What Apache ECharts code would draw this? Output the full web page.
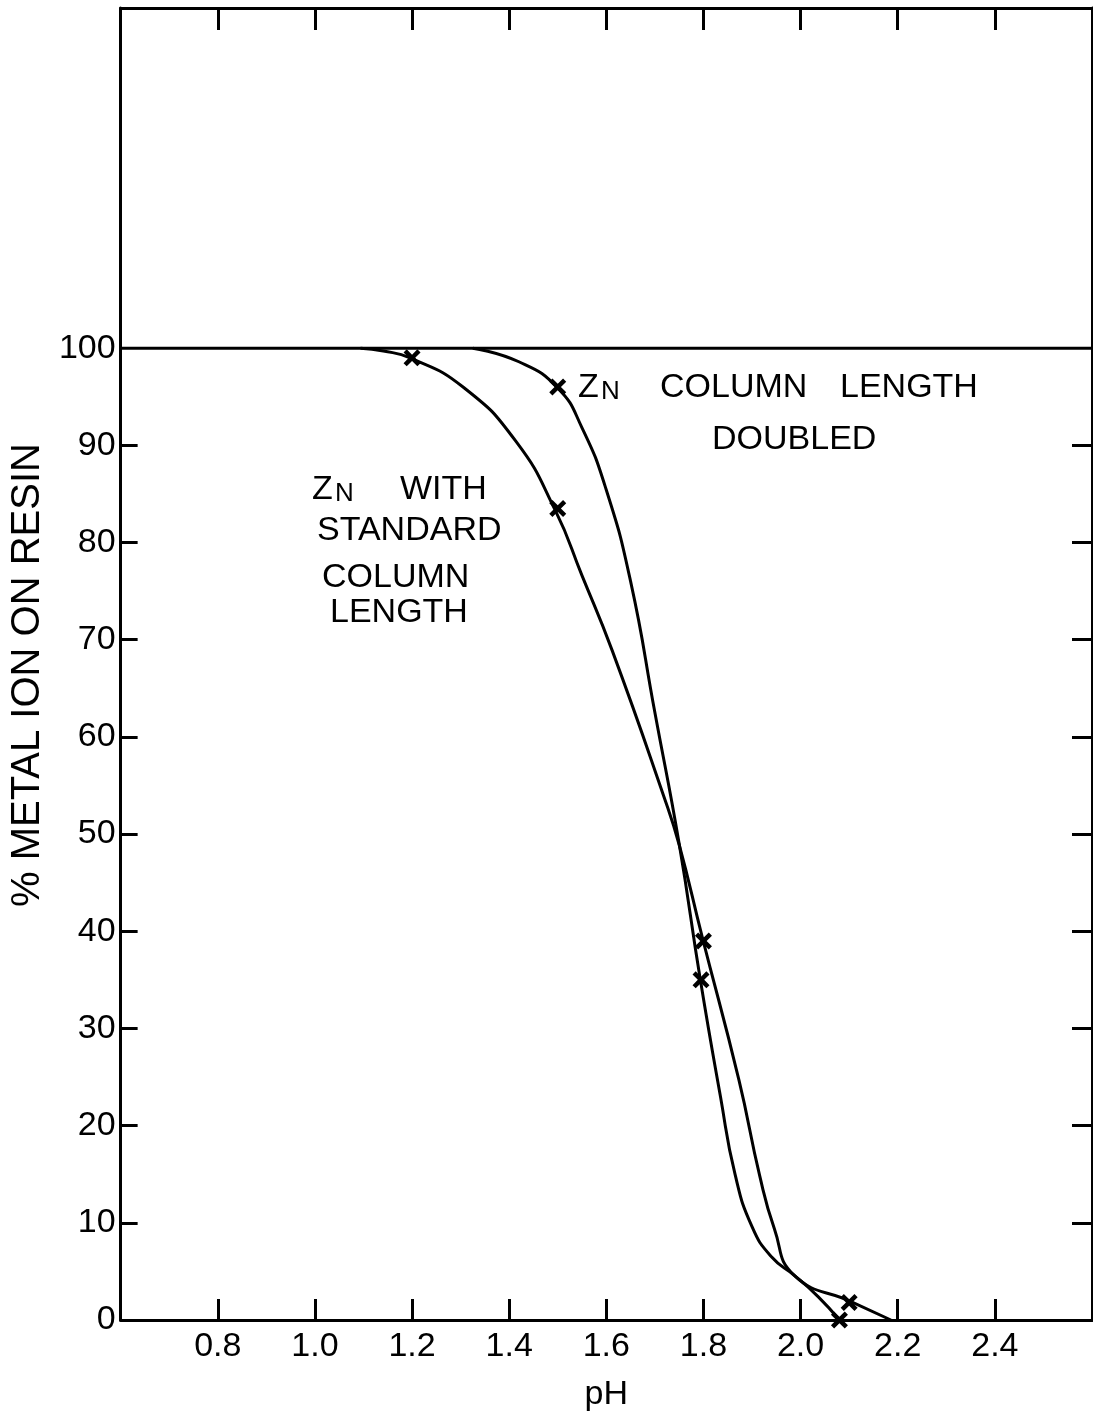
<!DOCTYPE html>
<html>
<head>
<meta charset="utf-8">
<script src="https://cdn.jsdelivr.net/npm/echarts@6/dist/echarts.min.js"></script>
<style>
  html, body { margin: 0; padding: 0; background: #fff; }
  #chart { width: 1093px; height: 1418px; }
</style>
</head>
<body>
<div id="chart"></div>
<script>
// pH tick positions and % labels
const xTicks = [0.8, 1.0, 1.2, 1.4, 1.6, 1.8, 2.0, 2.2, 2.4];
const yLabels = [0, 10, 20, 30, 40, 50, 60, 70, 80, 90, 100];
const yTicks = [10, 20, 30, 40, 50, 60, 70, 80, 90];

// 100 % reference line across the plot
const fullLine = [[0.6, 100], [2.6, 100]];

// Zn, standard column length: traced curve and measured points
const standardCurve = [
  [1.094, 100], [1.141, 99.7], [1.196, 99.0], [1.305, 96.0], [1.414, 90.4],
  [1.495, 83.3], [1.55, 76.6], [1.612, 68.9], [1.719, 53.8], [1.75, 48.9],
  [1.797, 39.5], [1.873, 24.7], [1.916, 14.8], [1.946, 9.4], [1.987, 4.6],
  [2.106, 1.85], [2.186, 0]
];
const standardPoints = [[1.2, 99], [1.5, 83.5], [1.8, 39], [2.1, 1.8]];

// Zn, column length doubled: traced curve and measured points
const doubledCurve = [
  [1.325, 100], [1.42, 98.6], [1.50, 95.9], [1.55, 91.8], [1.60, 85.4],
  [1.65, 76.0], [1.70, 62.5], [1.75, 49.0], [1.793, 35.2], [1.835, 23.0],
  [1.865, 15.0], [1.90, 9.6], [1.94, 6.5], [1.987, 4.6], [2.036, 2.4],
  [2.08, 0]
];
const doubledPoints = [[1.5, 96], [1.795, 35], [2.08, 0]];

const FONT = 'Liberation Sans';
const INK = '#000';
// bold "x" marker drawn as a filled outline
const crossPath = 'path://M0,3L3,0L8,5L13,0L16,3L11,8L16,13L13,16L8,11L3,16L0,13L5,8Z';

function txt(text, x, y, size) {
  return {
    type: 'text', left: x, top: y - size / 2,
    style: { text: text, font: size + 'px "' + FONT + '"', fill: INK }
  };
}

const chart = echarts.init(document.getElementById('chart'));
const axisLineStyle = { color: INK, width: 3 };
const tickStyle = { color: INK, width: 3 };

chart.setOption({
  backgroundColor: '#fff',
  animation: false,
  grid: { left: 116, right: 1, top: 8, bottom: 98, containLabel: false },
  xAxis: [
    {
      type: 'value', min: 0.6, max: 2.6, position: 'bottom',
      name: 'pH', nameLocation: 'middle', nameGap: 58,
      nameTextStyle: { fontFamily: FONT, fontSize: 34, color: INK },
      axisLine: { show: true, onZero: false, lineStyle: axisLineStyle },
      axisTick: { show: true, inside: true, length: 21, lineStyle: tickStyle, customValues: xTicks },
      axisLabel: { show: true, margin: 10, fontFamily: FONT, fontSize: 34, color: INK,
                   customValues: xTicks, formatter: v => v.toFixed(1) },
      splitLine: { show: false }
    },
    {
      type: 'value', min: 0.6, max: 2.6, position: 'top',
      axisLine: { show: true, onZero: false, lineStyle: axisLineStyle },
      axisTick: { show: true, inside: true, length: 22, lineStyle: tickStyle, customValues: xTicks },
      axisLabel: { show: false },
      splitLine: { show: false }
    }
  ],
  yAxis: [
    {
      type: 'value', min: 0, max: 135, position: 'left',
      name: '% METAL ION ON RESIN', nameLocation: 'middle', nameGap: 54, nameRotate: 90,
      nameTextStyle: { fontFamily: FONT, fontSize: 40, color: INK, padding: [0, 22, 0, 0] },
      axisLine: { show: true, onZero: false, lineStyle: axisLineStyle },
      axisTick: { show: true, inside: true, length: 17, lineStyle: tickStyle, customValues: yTicks },
      axisLabel: { show: true, margin: 5, fontFamily: FONT, fontSize: 34, color: INK,
                   customValues: yLabels },
      splitLine: { show: false }
    },
    {
      type: 'value', min: 0, max: 135, position: 'right',
      axisLine: { show: true, onZero: false, lineStyle: axisLineStyle },
      axisTick: { show: true, inside: true, length: 20, lineStyle: tickStyle, customValues: yTicks },
      axisLabel: { show: false },
      splitLine: { show: false }
    }
  ],
  series: [
    {
      type: 'line', data: fullLine, showSymbol: false, silent: true,
      lineStyle: { color: INK, width: 3 }
    },
    {
      type: 'line', name: 'standard', data: standardCurve, showSymbol: false,
      smooth: 0.5, silent: true,
      lineStyle: { color: INK, width: 3 }
    },
    {
      type: 'line', name: 'doubled', data: doubledCurve, showSymbol: false,
      smooth: 0.5, silent: true,
      lineStyle: { color: INK, width: 3 }
    },
    {
      type: 'scatter', data: standardPoints, symbol: crossPath, symbolSize: 17,
      itemStyle: { color: INK, opacity: 1 }, silent: true
    },
    {
      type: 'scatter', data: doubledPoints, symbol: crossPath, symbolSize: 17,
      itemStyle: { color: INK, opacity: 1 }, silent: true
    }
  ],
  graphic: [
    txt('Z', 578, 388, 34), txt('N', 601, 392, 26),
    txt('COLUMN', 660, 388, 34), txt('LENGTH', 840, 388, 34),
    txt('DOUBLED', 712, 440, 34),
    txt('Z', 312, 490, 34), txt('N', 335, 494, 26), txt('WITH', 400, 490, 34),
    txt('STANDARD', 317, 531, 34),
    txt('COLUMN', 322, 578, 34),
    txt('LENGTH', 330, 613, 34)
  ]
});
</script>
</body>
</html>
